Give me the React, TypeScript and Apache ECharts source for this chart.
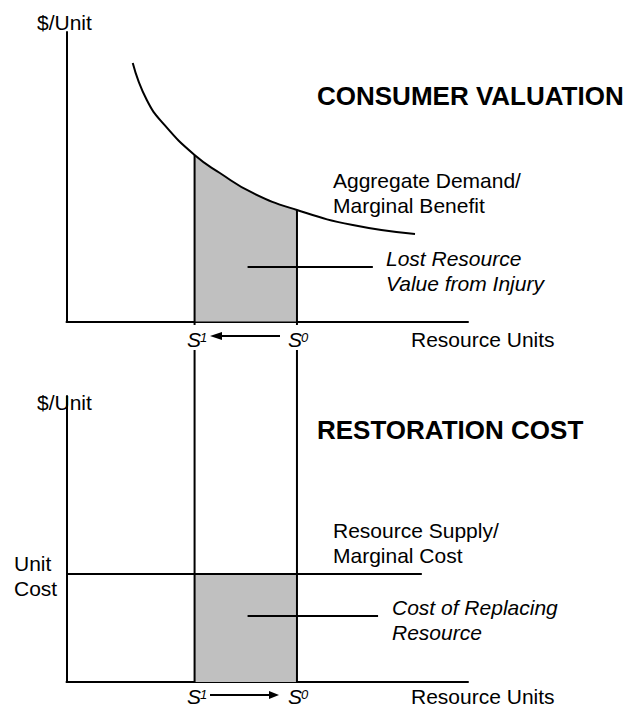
import React, { useEffect, useRef } from "react";
import * as echarts from "echarts";

// Demand / marginal benefit curve (quantity, $/unit), top panel
const demandQty = [16.5, 20.0, 24.4, 31.9, 38.2, 46.4, 57.4, 71.3, 86.8];
const demandPrice = [89.3, 76.5, 67.9, 57.5, 51.3, 44.4, 38.5, 33.3, 30.2];
// resource levels
const S1 = 31.9;
const S0 = 57.4;
// restoration cost (bottom panel)
const unitCost = 37.8;
const supplyEnd = 88.5;
// guide lines
const guideTopBottom = -1.2; // vertical guide ends just below top axis
const guideBottomTop = 116.1; // vertical guide starts above bottom panel
const leaderTopY = 18.8;
const leaderBottomY = 23.1;
const leaderStart = 45.1;
const leaderTopEnd = 76.3;
const leaderBottomEnd = 77.6;

const FONT = '"Liberation Sans", Arial, sans-serif';

function curveAt(q: number): number {
  const i = demandQty.indexOf(q);
  return demandPrice[i];
}

export default function App() {
  const ref = useRef<HTMLDivElement>(null);
  useEffect(() => {
    if (!ref.current) return;
    const chart = echarts.init(ref.current, undefined, { renderer: "svg" });
    const curve = demandQty.map((q, i) => [q, demandPrice[i]]);
    const shaded = curve.filter((p) => p[0] >= S1 && p[0] <= S0);
    const black = "#000";
    const lineCommon = {
      type: "line" as const,
      symbol: "none",
      silent: true,
      clip: false,
    };
    const txt = (text: string, x: number, y: number, font: string) => ({
      type: "text",
      x,
      y,
      silent: true,
      style: {
        text,
        font,
        fill: black,
        textAlign: "left",
        textVerticalAlign: "middle",
      },
    });
    const reg = `21px ${FONT}`;
    const ital = `italic 21px ${FONT}`;
    const bold = `bold 26px ${FONT}`;
    const sLabel = (x: number, y: number, sup: string) => [
      txt("S", x, y, `italic 21px ${FONT}`),
      txt(sup, x + 13, y - 2, `italic 13px ${FONT}`),
    ];
    const arrow = (x1: number, x2: number, y: number, tipLeft: boolean) => {
      const tip = tipLeft ? x1 : x2;
      const base = tipLeft ? x1 + 12 : x2 - 10;
      return [
        {
          type: "line",
          silent: true,
          shape: { x1: tipLeft ? base : x1, y1: y, x2: tipLeft ? x2 : base, y2: y },
          style: { stroke: black, lineWidth: 2 },
        },
        {
          type: "polygon",
          silent: true,
          shape: { points: [[tip, y], [base, y - 4], [base, y + 4]] },
          style: { fill: black },
        },
      ];
    };

    const axisX = (gi: number) => ({
      type: "value",
      gridIndex: gi,
      min: 0,
      max: 100,
      axisLine: { show: true, onZero: false, lineStyle: { color: black, width: 2 } },
      axisTick: { show: false },
      axisLabel: { show: false },
      splitLine: { show: false },
    });
    const axisY = (gi: number) => ({
      type: "value",
      gridIndex: gi,
      min: 0,
      max: 100,
      axisLine: { show: true, onZero: false, lineStyle: { color: black, width: 2 } },
      axisTick: { show: false },
      axisLabel: { show: false },
      splitLine: { show: false },
    });

    chart.setOption({
      animation: false,
      backgroundColor: "#fff",
      grid: [
        { left: 66.5, top: 32, width: 401.5, height: 289.5 },
        { left: 66.5, top: 396, width: 401.5, height: 286 },
      ],
      xAxis: [axisX(0), axisX(1)],
      yAxis: [axisY(0), axisY(1)],
      series: [
        {
          ...lineCommon,
          xAxisIndex: 0,
          yAxisIndex: 0,
          smooth: true,
          data: shaded,
          lineStyle: { width: 0 },
          areaStyle: { color: "#c0c0c0", opacity: 1, origin: "start" },
          z: 1,
        },
        {
          ...lineCommon,
          xAxisIndex: 0,
          yAxisIndex: 0,
          smooth: true,
          data: curve,
          lineStyle: { color: black, width: 2 },
          z: 3,
        },
        {
          ...lineCommon,
          xAxisIndex: 0,
          yAxisIndex: 0,
          data: [[S1, curveAt(S1)], [S1, guideTopBottom]],
          lineStyle: { color: black, width: 2 },
          z: 3,
        },
        {
          ...lineCommon,
          xAxisIndex: 0,
          yAxisIndex: 0,
          data: [[S0, curveAt(S0)], [S0, guideTopBottom]],
          lineStyle: { color: black, width: 2 },
          z: 3,
        },
        {
          ...lineCommon,
          xAxisIndex: 0,
          yAxisIndex: 0,
          data: [[leaderStart, leaderTopY], [leaderTopEnd, leaderTopY]],
          lineStyle: { color: black, width: 2 },
          z: 3,
        },
        {
          ...lineCommon,
          xAxisIndex: 1,
          yAxisIndex: 1,
          data: [[S1, unitCost], [S0, unitCost]],
          lineStyle: { width: 0 },
          areaStyle: { color: "#c0c0c0", opacity: 1, origin: "start" },
          z: 1,
        },
        {
          ...lineCommon,
          xAxisIndex: 1,
          yAxisIndex: 1,
          data: [[0, unitCost], [supplyEnd, unitCost]],
          lineStyle: { color: black, width: 2 },
          z: 3,
        },
        {
          ...lineCommon,
          xAxisIndex: 1,
          yAxisIndex: 1,
          data: [[S1, guideBottomTop], [S1, 0]],
          lineStyle: { color: black, width: 2 },
          z: 3,
        },
        {
          ...lineCommon,
          xAxisIndex: 1,
          yAxisIndex: 1,
          data: [[S0, guideBottomTop], [S0, 0]],
          lineStyle: { color: black, width: 2 },
          z: 3,
        },
        {
          ...lineCommon,
          xAxisIndex: 1,
          yAxisIndex: 1,
          data: [[leaderStart, leaderBottomY], [leaderBottomEnd, leaderBottomY]],
          lineStyle: { color: black, width: 2 },
          z: 3,
        },
      ],
      graphic: [
        txt("$/Unit", 37, 22, reg),
        txt("CONSUMER VALUATION", 317, 96, bold),
        txt("Aggregate Demand/", 333, 180, reg),
        txt("Marginal Benefit", 333, 205, reg),
        txt("Lost Resource", 386, 258, ital),
        txt("Value from Injury", 386, 283, ital),
        ...sLabel(187, 339.5, "1"),
        ...sLabel(288, 339.5, "0"),
        ...arrow(210, 280, 336, true),
        txt("Resource Units", 411, 339, reg),
        txt("$/Unit", 37, 402, reg),
        txt("RESTORATION COST", 317, 430, bold),
        txt("Resource Supply/", 333, 530, reg),
        txt("Marginal Cost", 333, 555, reg),
        txt("Unit", 14, 563, reg),
        txt("Cost", 14, 588, reg),
        txt("Cost of Replacing", 392, 607, ital),
        txt("Resource", 392, 632, ital),
        ...sLabel(187, 696.5, "1"),
        ...sLabel(288, 696.5, "0"),
        ...arrow(210, 279, 695, false),
        txt("Resource Units", 411, 696.5, reg),
      ],
    });
    return () => chart.dispose();
  }, []);
  return (
    <div
      ref={ref}
      style={{ position: "fixed", left: 0, top: 0, width: 634, height: 708 }}
    />
  );
}
